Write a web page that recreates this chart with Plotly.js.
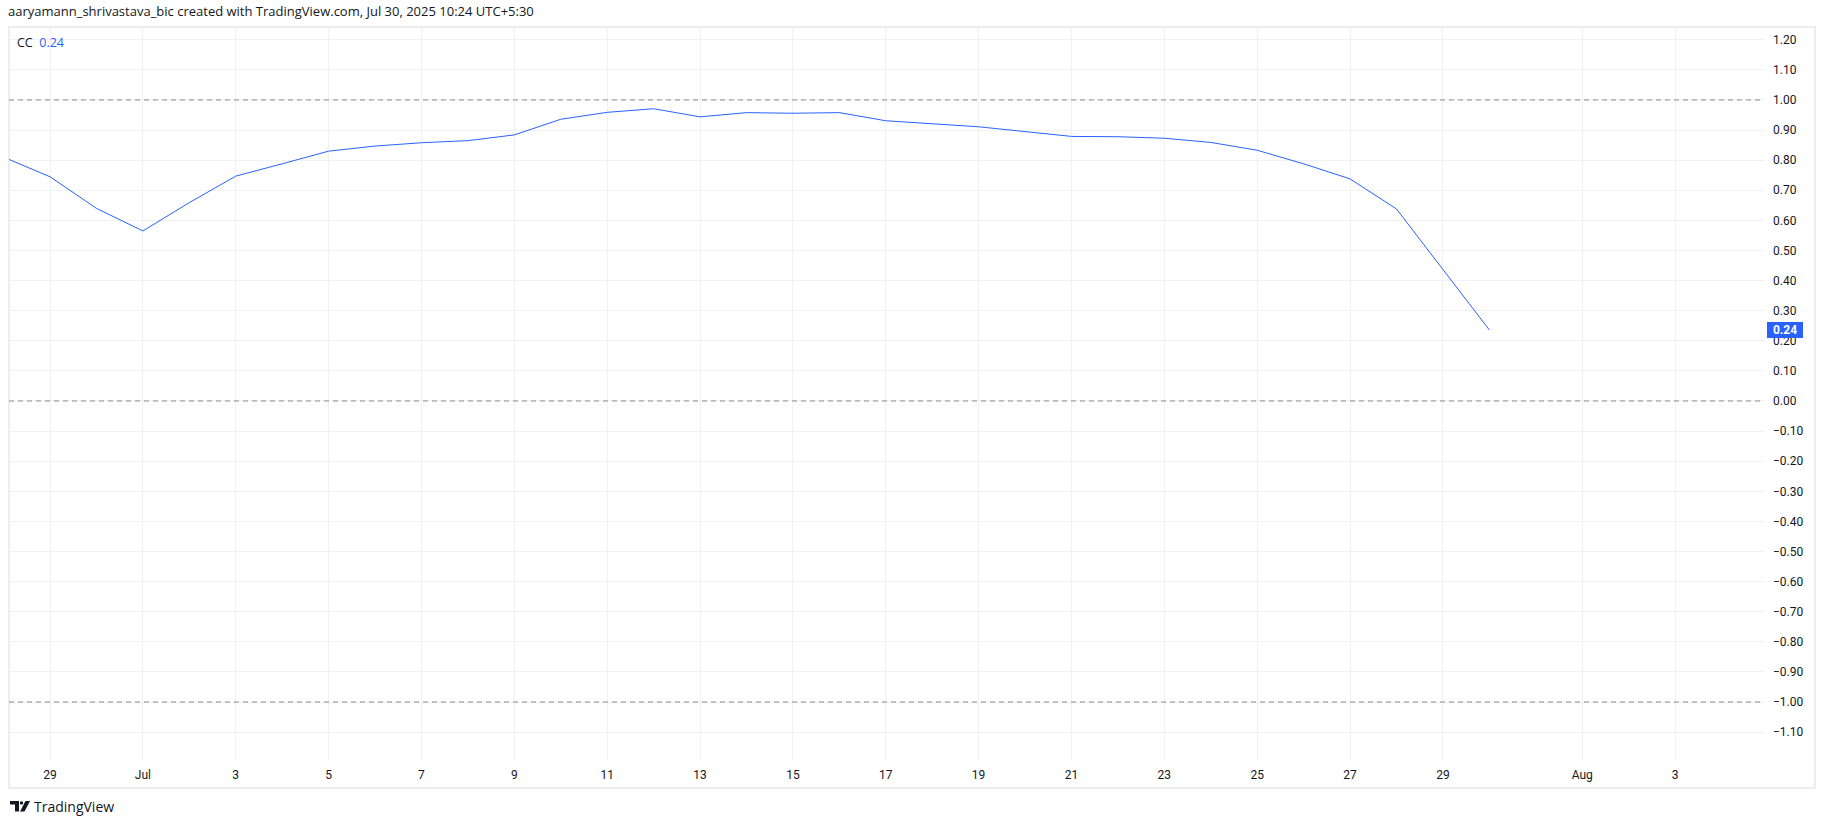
<!DOCTYPE html>
<html>
<head>
<meta charset="utf-8">
<script src="https://cdn.plot.ly/plotly-3.0.1.min.js"></script>
<style>
  html, body { margin: 0; padding: 0; background: #ffffff; }
  #chart { width: 1825px; height: 824px; }
</style>
</head>
<body>
<div id="chart"></div>
<script>
// ---- data ----
const dates = [
  '2025-06-28','2025-06-29','2025-06-30','2025-07-01','2025-07-02','2025-07-03',
  '2025-07-04','2025-07-05','2025-07-06','2025-07-07','2025-07-08','2025-07-09',
  '2025-07-10','2025-07-11','2025-07-12','2025-07-13','2025-07-14','2025-07-15',
  '2025-07-16','2025-07-17','2025-07-18','2025-07-19','2025-07-20','2025-07-21',
  '2025-07-22','2025-07-23','2025-07-24','2025-07-25','2025-07-26','2025-07-27',
  '2025-07-28','2025-07-29','2025-07-30'
];
const ccValues = [
  0.810, 0.745, 0.640, 0.565, 0.659, 0.747,
  0.788, 0.830, 0.847, 0.858, 0.865, 0.884,
  0.936, 0.959, 0.971, 0.944, 0.958, 0.956,
  0.958, 0.931, 0.921, 0.911, 0.895, 0.879,
  0.878, 0.873, 0.859, 0.833, 0.788, 0.738,
  0.638, 0.437, 0.236
];
const tickDates = [
  '2025-06-29','2025-07-01','2025-07-03','2025-07-05','2025-07-07','2025-07-09',
  '2025-07-11','2025-07-13','2025-07-15','2025-07-17','2025-07-19','2025-07-21',
  '2025-07-23','2025-07-25','2025-07-27','2025-07-29','2025-08-01','2025-08-03'
];
const tickLabels = ['29','Jul','3','5','7','9','11','13','15','17','19','21','23','25','27','29','Aug','3'];
const levelLines = [1, 0, -1];
const seriesName = 'CC';
const headerText = 'aaryamann_shrivastava_bic created with TradingView.com, Jul 30, 2025 10:24 UTC+5:30';

// ---- layout geometry ----
const W = 1825, H = 824;
const M = { l: 9, r: 61, t: 27, b: 64 };
const plotW = W - M.l - M.r, plotH = H - M.t - M.b;
const px = x => (x - M.l) / plotW;          // pixel -> paper x
const py = y => (H - M.b - y) / plotH;      // pixel -> paper y

const BLUE = '#2962ff';
const TXT = '#131722';
const FONT = 'Roboto, "Noto Sans", sans-serif';
const HFONT = '"Open Sans", "Noto Sans", sans-serif';

const lastVal = ccValues[ccValues.length - 1];

const trace = {
  x: dates, y: ccValues, type: 'scatter', mode: 'lines',
  line: { color: BLUE, width: 1 }, hoverinfo: 'skip', showlegend: false
};

const shapes = [];
// pane frame
shapes.push({ type: 'rect', xref: 'paper', yref: 'paper', x0: px(9), x1: px(1815), y0: py(788), y1: py(27),
  line: { color: '#e6e8ee', width: 1.5 }, fillcolor: 'rgba(0,0,0,0)', layer: 'below' });
// dashed level lines
levelLines.forEach(v => shapes.push({ type: 'line', xref: 'paper', yref: 'y', x0: 0, x1: 1, y0: v, y1: v,
  line: { color: '#8a8a8a', width: 1, dash: '5px,4px' }, layer: 'above' }));
// TradingView logo glyph
shapes.push({ type: 'path', xref: 'paper', yref: 'paper',
  path: `M${px(10)},${py(801)} L${px(19)},${py(801)} L${px(19)},${py(811.5)} L${px(15)},${py(811.5)} L${px(15)},${py(804.5)} L${px(10)},${py(804.5)} Z`,
  fillcolor: TXT, line: { width: 0 } });
shapes.push({ type: 'circle', xref: 'paper', yref: 'paper', x0: px(19.8), x1: px(23.2), y0: py(804.6), y1: py(801.2),
  fillcolor: TXT, line: { width: 0 } });
shapes.push({ type: 'path', xref: 'paper', yref: 'paper',
  path: `M${px(25.5)},${py(801)} L${px(30)},${py(801)} L${px(24.5)},${py(811.5)} L${px(20)},${py(811.5)} Z`,
  fillcolor: TXT, line: { width: 0 } });

const annotations = [
  { xref: 'paper', yref: 'paper', x: px(6), y: py(11), xanchor: 'left', yanchor: 'middle', showarrow: false,
    text: headerText, font: { family: HFONT, size: 13, color: TXT } },
  { xref: 'paper', yref: 'paper', x: px(15), y: py(42), xanchor: 'left', yanchor: 'middle', showarrow: false,
    text: seriesName + '  <span style="color:' + BLUE + '">' + lastVal.toFixed(2) + '</span>',
    font: { family: HFONT, size: 12.5, color: TXT } },
  { xref: 'paper', yref: 'y', x: px(1767), y: lastVal, xanchor: 'left', yanchor: 'middle', showarrow: false,
    text: '<b>' + lastVal.toFixed(2) + '</b>', bgcolor: BLUE, borderpad: 1.5, borderwidth: 0,
    width: 33, height: 13, align: 'center',
    font: { family: FONT, size: 12, color: '#ffffff' } },
  { xref: 'paper', yref: 'paper', x: px(32), y: py(806.5), xanchor: 'left', yanchor: 'middle', showarrow: false,
    text: 'TradingView', font: { family: HFONT, size: 14, color: TXT } }
];

const layout = {
  width: W, height: H,
  margin: M,
  paper_bgcolor: '#ffffff', plot_bgcolor: '#ffffff',
  showlegend: false,
  xaxis: {
    type: 'date',
    range: ['2025-06-28 02:48', '2025-08-04 21:58'],
    tickmode: 'array', tickvals: tickDates, ticktext: tickLabels,
    showgrid: true, gridcolor: '#f0f1f4', gridwidth: 1,
    zeroline: false, showline: false, ticks: '',
    ticklabelstandoff: 6,
    tickfont: { family: FONT, size: 12, color: TXT },
    fixedrange: true
  },
  yaxis: {
    side: 'right',
    range: [-1.1927, 1.2425],
    tick0: 0, dtick: 0.1, tickformat: '.2f',
    showgrid: true, gridcolor: '#f0f1f4', gridwidth: 1,
    zeroline: false, showline: false, ticks: '',
    ticklabelstandoff: 8,
    tickfont: { family: FONT, size: 12, color: TXT },
    fixedrange: true
  },
  shapes: shapes,
  annotations: annotations
};

Plotly.newPlot('chart', [trace], layout, { displayModeBar: false, staticPlot: true });
</script>
</body>
</html>
